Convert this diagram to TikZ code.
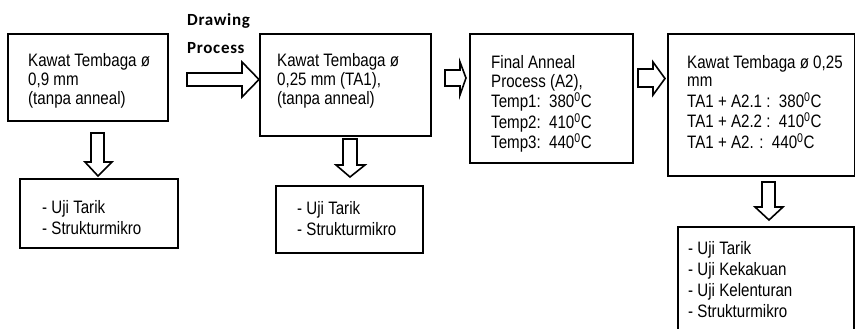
\documentclass[tikz,border=0pt]{standalone}
\usepackage{fontspec}
\setmainfont{Liberation Sans}[FakeStretch=0.84]
\newfontfamily\lblfont{Carlito}[LetterSpace=4]
\newcommand\mlines[1]{\begin{tabular}[t]{@{}l@{}}#1\end{tabular}}
\begin{document}
\begin{tikzpicture}[x=1pt,y=-1pt,
  box/.style={draw, line width=1.6pt, anchor=north west, inner sep=0pt},
  txt/.style={anchor=base west, inner sep=0pt, font=\fontsize{18}{18.5}\selectfont},
  txtb/.style={anchor=base west, inner sep=0pt, font=\fontsize{18}{21.5}\selectfont},
  blk/.style={draw, line width=1.6pt, line join=miter, fill=white},
  lbl/.style={anchor=base west, inner sep=0pt, font=\lblfont\bfseries\fontsize{17}{28}\selectfont}]
\fill[white] (0,0) rectangle (855,329);
\clip (0,0) rectangle (855,329);
% boxes
\node[box, minimum width=160pt, minimum height=87pt]  (b1) at (7,33) {};
\node[box, minimum width=171pt, minimum height=102pt] (b2) at (259,33) {};
\node[box, minimum width=163pt, minimum height=129pt] (b3) at (469,33) {};
\node[box, minimum width=187pt, minimum height=142pt] (b4) at (667,33) {};
\node[box, minimum width=158pt, minimum height=69pt]  (u1) at (19,178) {};
\node[box, minimum width=147pt, minimum height=67pt]  (u2) at (275,185) {};
\node[box, minimum width=176pt, minimum height=120pt] (u3) at (677,226) {};
% texts
\node[txt] (t1) at (28,67) {\mlines{Kawat Tembaga ø\\0,9 mm\\(tanpa anneal)}};
\node[txt] (t2) at (277,67) {\mlines{Kawat Tembaga ø\\0,25 mm (TA1),\\(tanpa anneal)}};
\node[txt, font=\fontsize{18}{18}\selectfont] (t3) at (491,69) {\mlines{Final Anneal\\Process (A2),\\Temp1:\ \ 380\textsuperscript{0}C\\Temp2:\ \ 410\textsuperscript{0}C\\Temp3:\ \ 440\textsuperscript{0}C}};
\node[txt, font=\fontsize{18}{18}\selectfont] (t4) at (687,69) {\mlines{Kawat Tembaga ø 0,25\\mm\\TA1 + A2.1 :\ \ 380\textsuperscript{0}C\\TA1 + A2.2 :\ \ 410\textsuperscript{0}C\\TA1 + A2. :\ \ 440\textsuperscript{0}C}};
\node[txtb] (s1) at (42,213) {\mlines{- Uji Tarik\\- Strukturmikro}};
\node[txtb] (s2) at (297,214) {\mlines{- Uji Tarik\\- Strukturmikro}};
\node[txtb, font=\fontsize{18}{21.3}\selectfont] (s3) at (688,254) {\mlines{- Uji Tarik\\- Uji Kekakuan\\- Uji Kelenturan\\- Strukturmikro}};
\node[lbl] (dp) at (187,26) {\mlines{Drawing\\Process}};
% block arrows
\draw[blk] (187,73) -- (242,73) -- (242,62) -- (259,79.5) -- (242,97) -- (242,86) -- (187,86) -- cycle;
\draw[blk] (445,70) -- (460,70) -- (460,62) -- (466,78) -- (460,95) -- (460,86) -- (445,86) -- cycle;
\draw[blk] (638,69) -- (653,69) -- (653,62) -- (665,78.5) -- (653,95) -- (653,87) -- (638,87) -- cycle;
\draw[blk] (91,133) -- (91,162) -- (85,162) -- (98,176) -- (112,162) -- (104,162) -- (104,133) -- cycle;
\draw[blk] (343,139) -- (343,165) -- (336,165) -- (350,177) -- (365,165) -- (357,165) -- (357,139) -- cycle;
\draw[blk] (762,182) -- (762,207) -- (755,207) -- (769,220) -- (783,207) -- (775,207) -- (775,182) -- cycle;
\end{tikzpicture}
\end{document}
